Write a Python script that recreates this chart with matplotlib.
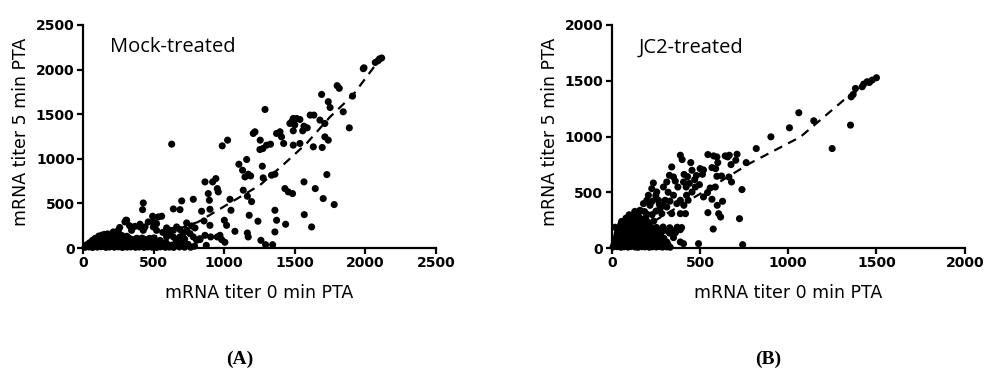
import matplotlib
matplotlib.use("Agg")
from matplotlib import pyplot as plt

# mock-treated: mRNA titer at 0 min vs 5 min
mock_sparse = [
    (2115, 2130), (2100, 2120), (2090, 2100), (2070, 2080), (1990, 2020), (1985, 2010),
    (1800, 1820), (1815, 1790), (1690, 1722), (1737, 1640), (1750, 1575), (1909, 1703),
    (1843, 1527), (1886, 1347), (1289, 1553), (1635, 1490), (1678, 1434), (1713, 1396),
    (1713, 1246), (1737, 1209), (1631, 1134), (1694, 1127), (1727, 823), (1645, 666),
    (1701, 554), (1779, 487), (1565, 741), (1567, 374), (1619, 236), (1465, 1396),
    (1489, 1452), (1513, 1452), (1536, 1441), (1565, 1366), (1556, 1314), (1489, 1314),
    (1489, 1153), (1536, 1172), (1588, 1347), (1609, 1490), (1480, 1420), (1500, 1380),
    (1395, 1303), (1406, 1246), (1421, 1172), (1371, 1284), (1430, 666), (1454, 629),
    (1484, 610), (1435, 266), (1359, 423), (1371, 311), (1359, 180), (1343, 37),
    (1293, 37), (1260, 86), (1218, 1303), (1206, 1284), (1255, 1209), (1274, 1115),
    (1300, 1153), (1328, 1164), (1253, 1104), (1270, 917), (1276, 786), (1335, 816),
    (1359, 827), (1239, 300), (1194, 520), (1104, 939), (1130, 872), (1159, 992),
    (1170, 827), (1187, 808), (1147, 797), (1135, 648), (1164, 580), (1177, 367),
    (1164, 168), (1170, 124), (1076, 187), (1024, 1209), (986, 1145), (1041, 546),
    (1048, 423), (1001, 311), (1017, 254), (1005, 64), (951, 666), (918, 741),
    (941, 778), (958, 629), (887, 610), (864, 741), (895, 535), (899, 434), (840, 412),
    (857, 303), (899, 254), (864, 142), (873, 30), (904, 124), (951, 124), (970, 142),
    (982, 94), (781, 546), (699, 528), (687, 430), (640, 438), (628, 1164), (734, 281),
    (769, 247), (793, 225), (828, 94), (427, 505), (422, 430), (304, 311), (493, 356),
    (557, 356), (521, 273), (404, 236), (427, 198), (498, 236), (521, 198),
    (215, 180), (250, 198), (297, 292), (309, 311), (344, 198), (368, 243), (404, 266),
    (439, 236), (462, 292), (498, 292), (533, 348), (592, 225), (616, 198), (640, 198),
    (663, 236), (687, 206), (710, 161), (734, 198), (758, 161), (781, 124), (805, 86),
    (828, 105), (687, 124), (640, 124), (592, 124), (700, 60), (745, 40), (790, 20),
    (660, 90), (720, 100), (610, 160), (565, 175), (260, 230), (330, 250),
]
mock_blob = [
    (15, 8), (42, 12), (68, 6), (101, 10), (128, 14), (163, 7), (188, 11), (222, 9),
    (251, 13), (279, 6), (312, 10), (338, 12), (372, 8), (398, 11), (433, 7), (461, 12),
    (489, 9), (522, 6), (548, 13), (583, 8), (611, 10), (642, 7), (683, 12), (719, 9),
    (762, 8), (26, 36), (54, 33), (87, 38), (113, 35), (147, 31), (173, 37), (207, 34),
    (236, 39), (263, 32), (296, 36), (327, 38), (353, 31), (386, 35), (414, 37), (447, 33),
    (473, 36), (506, 39), (533, 32), (567, 35), (598, 38), (631, 33), (662, 30),
    (46, 58), (77, 63), (104, 61), (136, 57), (166, 62), (193, 59), (226, 64), (257, 58),
    (283, 61), (317, 63), (344, 57), (377, 60), (406, 62), (437, 58), (463, 63), (497, 60),
    (524, 57), (557, 62), (588, 59), (67, 86), (94, 83), (126, 88), (157, 85), (183, 82),
    (216, 87), (244, 84), (277, 89), (303, 83), (336, 86), (364, 88), (396, 82), (427, 86),
    (453, 84), (487, 87), (514, 83), (546, 85), (86, 108), (117, 112), (143, 109),
    (176, 111), (204, 107), (237, 113), (263, 110), (296, 106), (324, 112), (382, 109),
    (418, 111), (471, 108), (502, 113), (112, 134), (141, 137), (168, 132), (202, 136),
    (231, 133), (278, 138), (311, 131), (152, 152), (174, 158), (199, 155), (262, 150),
    (28, 22), (57, 24), (85, 21), (114, 25), (143, 22), (176, 24), (205, 21), (238, 23),
    (266, 25), (294, 22), (325, 24), (356, 21), (388, 23), (417, 25), (446, 22), (478, 24),
    (508, 21), (537, 23), (566, 25), (596, 22), (48, 47), (81, 49), (109, 46), (139, 48),
    (171, 50), (199, 47), (229, 49), (259, 46), (289, 48), (321, 50), (351, 47), (379, 49),
    (409, 46), (441, 48), (469, 50), (499, 47), (529, 49), (562, 46), (72, 73), (101, 75),
    (131, 72), (161, 74), (191, 76), (221, 73), (251, 75), (281, 72), (311, 74), (341, 76),
    (371, 73), (401, 75), (431, 72), (461, 74), (491, 76), (521, 73), (97, 97), (128, 99),
    (159, 96), (189, 98), (219, 100), (249, 97), (281, 99), (311, 96), (341, 98), (372, 100),
    (401, 97), (432, 99), (462, 96), (494, 98), (128, 122), (156, 124), (186, 121),
    (217, 123), (248, 125), (288, 122), (135, 145), (188, 146), (222, 144), (240, 150),
]
mock_fit_x = [30, 200, 500, 814, 1112, 1254, 1416, 1586, 1749, 1912, 2082]
mock_fit_y = [0, 30, 120, 291, 572, 706, 930, 1177, 1469, 1715, 2074]

# JC2-treated
jc2_sparse = [
    (1500, 1527), (1476, 1506), (1447, 1491), (1428, 1470), (1419, 1446), (1381, 1431),
    (1368, 1377), (1357, 1356), (1460, 1485), (1353, 1102), (1249, 892), (1060, 1213),
    (1145, 1141), (1007, 1078), (902, 997), (819, 892), (762, 766), (738, 524), (724, 263),
    (742, 30), (710, 841), (703, 787), (666, 832), (657, 817), (676, 748), (643, 826),
    (545, 838), (577, 826), (596, 817), (601, 766), (568, 721), (589, 712), (596, 643),
    (622, 646), (679, 592), (664, 637), (501, 712), (514, 661), (497, 568), (520, 458),
    (543, 497), (558, 538), (587, 547), (568, 437), (628, 419), (598, 383), (606, 308),
    (617, 278), (545, 317), (575, 170), (492, 39), (448, 766), (399, 793), (389, 832),
    (455, 697), (470, 613), (474, 547), (455, 502), (433, 428), (409, 383), (418, 308),
    (389, 428), (375, 547), (350, 637), (340, 727), (312, 592), (293, 547), (303, 428),
    (312, 368), (284, 308), (340, 308), (407, 592), (422, 547), (369, 398), (389, 308),
    (274, 353), (424, 473), (350, 473), (327, 652), (236, 583), (227, 532), (208, 473),
    (199, 428), (217, 383), (265, 428), (255, 503), (180, 398), (161, 338), (142, 308),
    (389, 165), (369, 159), (340, 159), (312, 159), (350, 93), (389, 54), (407, 39),
    (312, 54), (284, 84), (430, 640), (360, 600), (410, 660), (250, 470), (230, 420),
    (270, 390), (320, 500), (440, 580), (480, 650), (520, 700), (330, 420), (290, 380),
]
jc2_blob = [
    (8, 9), (31, 12), (52, 7), (69, 11), (92, 8), (108, 13), (133, 9), (149, 6), (172, 12),
    (188, 10), (213, 7), (229, 11), (252, 9), (271, 13), (288, 8), (312, 10), (331, 7),
    (14, 36), (37, 33), (54, 38), (77, 34), (93, 37), (118, 32), (134, 36), (157, 39),
    (173, 33), (197, 35), (214, 38), (236, 32), (253, 36), (277, 34), (302, 37), (318, 33),
    (21, 61), (38, 58), (62, 63), (79, 59), (101, 62), (118, 57), (142, 61), (159, 64),
    (181, 58), (202, 62), (219, 59), (241, 63), (262, 57), (286, 61), (24, 86), (47, 83),
    (64, 88), (87, 84), (103, 87), (127, 82), (144, 86), (166, 89), (183, 83), (207, 87),
    (224, 84), (251, 88), (268, 82), (296, 86), (29, 112), (52, 108), (68, 111), (92, 107),
    (109, 113), (131, 109), (148, 112), (172, 106), (189, 110), (211, 113), (232, 108),
    (258, 111), (32, 136), (54, 133), (77, 138), (94, 134), (116, 137), (133, 132),
    (157, 136), (174, 139), (196, 133), (213, 137), (247, 134), (281, 138), (328, 133),
    (361, 137), (36, 161), (59, 158), (82, 163), (98, 159), (121, 162), (139, 157),
    (162, 161), (178, 164), (201, 158), (231, 162), (263, 159), (302, 161), (19, 186),
    (46, 183), (64, 188), (87, 184), (103, 187), (127, 182), (144, 186), (166, 189),
    (184, 183), (221, 187), (254, 184), (291, 188), (329, 182), (371, 186), (396, 183),
    (51, 211), (74, 208), (96, 213), (114, 209), (137, 212), (153, 207), (181, 211),
    (208, 209), (56, 238), (79, 242), (102, 237), (124, 241), (151, 239), (173, 243),
    (202, 236), (238, 241), (81, 268), (104, 272), (131, 267), (158, 271), (192, 269),
    (99, 298), (127, 302), (149, 297), (201, 301), (229, 299), (131, 328), (158, 332),
    (186, 327), (251, 331), (20, 23), (42, 22), (63, 24), (85, 21), (112, 23), (141, 25),
    (163, 22), (193, 24), (221, 21), (245, 23), (263, 25), (295, 22), (26, 48), (49, 47),
    (71, 49), (91, 46), (111, 48), (131, 50), (151, 47), (171, 49), (191, 46), (211, 48),
    (231, 50), (251, 47), (272, 49), (34, 73), (55, 72), (74, 74), (95, 71), (113, 73),
    (135, 75), (152, 72), (175, 74), (194, 71), (215, 73), (236, 75), (259, 72),
    (40, 98), (61, 97), (80, 99), (99, 96), (119, 98), (138, 100), (158, 97), (178, 99),
    (199, 96), (219, 98), (242, 100), (44, 123), (66, 122), (85, 124), (105, 121),
    (124, 123), (145, 125), (165, 122), (185, 124), (205, 121), (228, 123),
    (48, 148), (70, 147), (90, 149), (111, 146), (130, 148), (151, 150), (170, 147),
    (189, 149), (215, 146), (70, 175), (93, 174), (115, 176), (135, 173), (155, 175),
    (66, 224), (90, 226), (113, 223), (139, 225), (162, 227), (93, 255), (118, 253),
    (145, 256), (170, 254),
]
jc2_fit_x = [20, 250, 518, 786, 1069, 1315, 1495]
jc2_fit_y = [0, 250, 502, 762, 996, 1327, 1525]

panels = [
    ("Mock-treated", mock_sparse + mock_blob, mock_fit_x, mock_fit_y, 2500, "(A)"),
    ("JC2-treated", jc2_sparse + jc2_blob, jc2_fit_x, jc2_fit_y, 2000, "(B)"),
]
lefts = [83 / 984, 611.7 / 984]

fig = plt.figure(figsize=(9.84, 3.83), dpi=100)

for (title, pts, fx, fy, lim, tag), left in zip(panels, lefts):
    ax = fig.add_axes([left, 135 / 383, 353 / 984, 223 / 383])
    xs = [p[0] for p in pts]
    ys = [p[1] for p in pts]
    ax.scatter(xs, ys, s=26, c="black", edgecolors="none", clip_on=False, zorder=3)
    ax.plot(fx, fy, color="black", lw=1.6, ls=(0, (4, 3)), zorder=4)

    ax.set_xlim(0, lim)
    ax.set_ylim(0, lim)
    ticks = list(range(0, lim + 1, 500))
    ax.set_xticks(ticks)
    ax.set_yticks(ticks)
    ax.spines["top"].set_visible(False)
    ax.spines["right"].set_visible(False)
    for s in ["left", "bottom"]:
        ax.spines[s].set_linewidth(1.6)
    ax.tick_params(width=1.6, length=4, labelsize=10, pad=2)
    for lab in ax.get_xticklabels() + ax.get_yticklabels():
        lab.set_fontweight("bold")

    ax.text(0.077, 0.90, title, transform=ax.transAxes, fontsize=14.5,
            family="Open Sans", va="center", ha="left")

    cx = left + 353 / 984 / 2
    fig.text(cx, 0.235, "mRNA titer 0 min PTA", ha="center", va="center", fontsize=12.5)
    fig.text(left - 62 / 984, 0.655, "mRNA titer 5 min PTA", ha="center", va="center",
             rotation=90, fontsize=12.5)
    fig.text(cx - 20 / 984, 0.062, tag, ha="center", va="center", fontsize=14,
             family="Liberation Serif", fontweight="bold")

fig.savefig("out.png", dpi=100)
